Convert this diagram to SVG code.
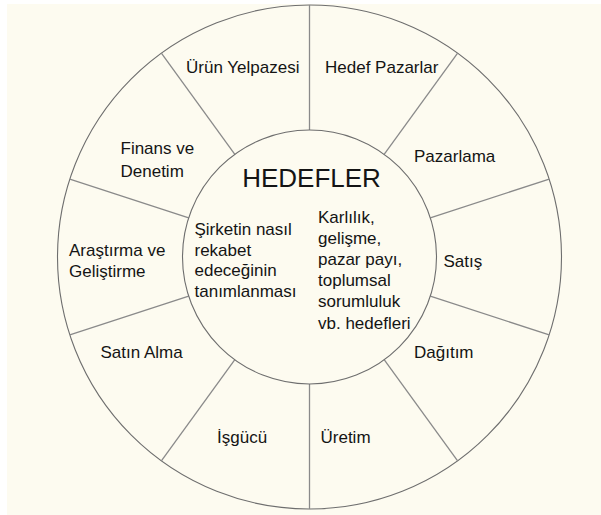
<svg xmlns="http://www.w3.org/2000/svg" width="601" height="515" viewBox="0 0 601 515">
<style>
.ring{fill:none;stroke:#6e6e6e;stroke-width:1.1}
.spoke{stroke:#8a8a8a;stroke-width:1.3;fill:none}
text{font-family:"Liberation Sans",Arial,sans-serif;font-size:17px;fill:#141414}
.title{font-size:26px}
</style>
<rect x="0" y="0" width="601" height="515" fill="#ffffff"/>
<rect x="7" y="4" width="594" height="511" fill="#fdfbf0"/>
<g id="outer-ring">
<circle class="ring" cx="309.5" cy="257" r="252"/>
</g>
<g id="connectors">
<line class="spoke" x1="309.5" y1="130" x2="309.5" y2="5"/>
<line class="spoke" x1="384.15" y1="154.26" x2="457.63" y2="53.13"/>
<line class="spoke" x1="430.29" y1="217.76" x2="549.18" y2="179.13"/>
<line class="spoke" x1="430.29" y1="296.24" x2="549.18" y2="334.87"/>
<line class="spoke" x1="384.15" y1="359.74" x2="457.63" y2="460.87"/>
<line class="spoke" x1="309.5" y1="384" x2="309.5" y2="509"/>
<line class="spoke" x1="234.85" y1="359.74" x2="161.37" y2="460.87"/>
<line class="spoke" x1="188.71" y1="296.24" x2="69.82" y2="334.87"/>
<line class="spoke" x1="188.71" y1="217.76" x2="69.82" y2="179.13"/>
<line class="spoke" x1="234.85" y1="154.26" x2="161.37" y2="53.13"/>
</g>
<g id="hedefler">
<circle class="ring" cx="309.5" cy="257" r="127"/>
<text class="title" x="311.5" y="187" text-anchor="middle">HEDEFLER</text>
<text x="194.5"><tspan x="194.5" y="235">Şirketin nasıl</tspan><tspan x="194.5" y="255.5">rekabet</tspan><tspan x="194.5" y="276">edeceğinin</tspan><tspan x="194.5" y="296.5">tanımlanması</tspan></text>
<text x="318"><tspan x="318" y="222.5">Karlılık,</tspan><tspan x="318" y="243.7">gelişme,</tspan><tspan x="318" y="264.9">pazar payı,</tspan><tspan x="318" y="286.1">toplumsal</tspan><tspan x="318" y="307.3">sorumluluk</tspan><tspan x="318" y="328.5">vb. hedefleri</tspan></text>
</g>
<g id="urun-yelpazesi"><text x="186" y="72.5">Ürün Yelpazesi</text></g>
<g id="hedef-pazarlar"><text x="325" y="72.5">Hedef Pazarlar</text></g>
<g id="pazarlama"><text x="414" y="162">Pazarlama</text></g>
<g id="satis"><text x="443.5" y="267">Satış</text></g>
<g id="dagitim"><text x="414" y="358">Dağıtım</text></g>
<g id="uretim"><text x="320.5" y="443">Üretim</text></g>
<g id="isgucu"><text x="217" y="443">İşgücü</text></g>
<g id="satin-alma"><text x="100.5" y="357.5">Satın Alma</text></g>
<g id="arastirma"><text x="69"><tspan x="69" y="255.5">Araştırma ve</tspan><tspan x="69" y="277">Geliştirme</tspan></text></g>
<g id="finans"><text x="120.5"><tspan x="120.5" y="154">Finans ve</tspan><tspan x="120.5" y="176.5">Denetim</tspan></text></g>
</svg>
